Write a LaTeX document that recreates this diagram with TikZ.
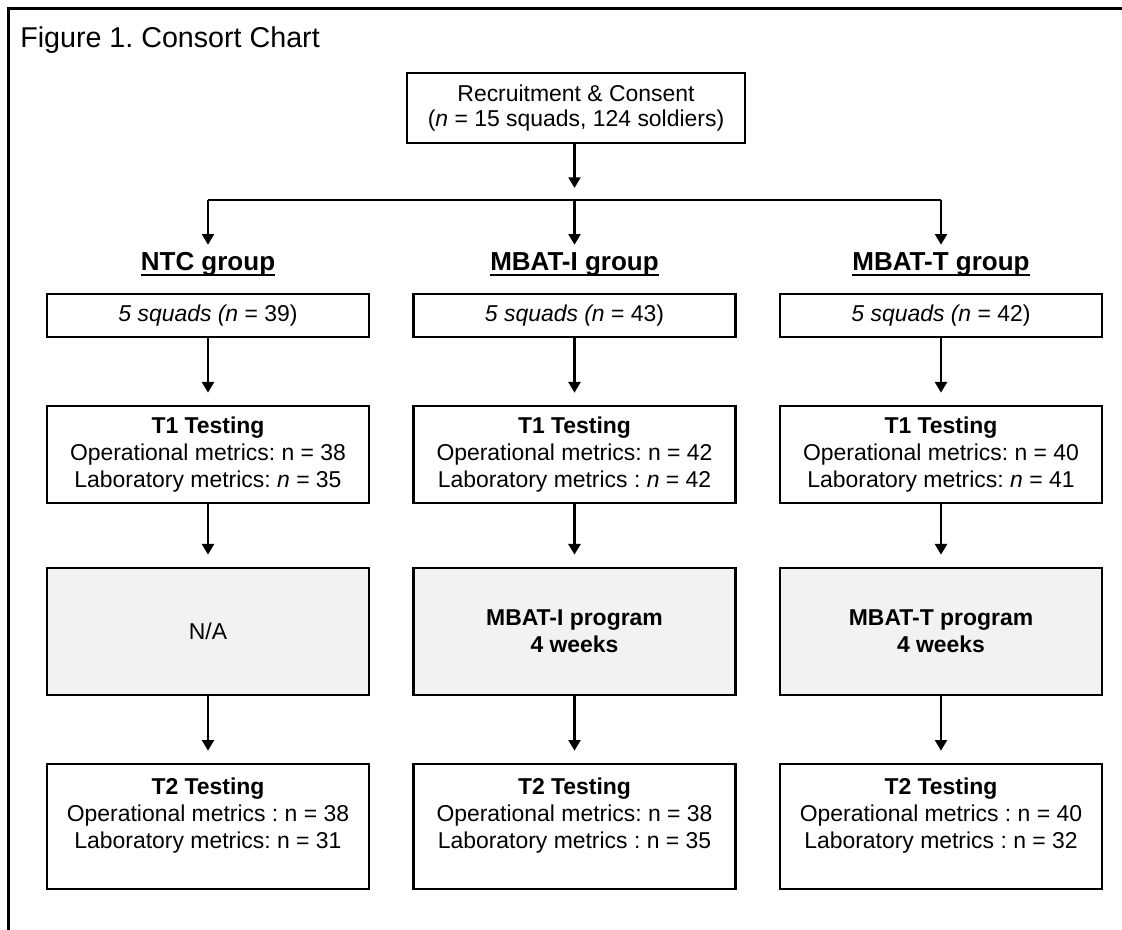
\documentclass[tikz,border=0pt]{standalone}
\usepackage{fontspec}
\setmainfont{Liberation Sans}
\usetikzlibrary{arrows.meta}
\definecolor{boxgrey}{HTML}{F2F2F2}
\newcommand{\grpul}[1]{\setbox0\hbox{#1}\rlap{\rule[-3.4pt]{\wd0}{1.5pt}}\box0}
\frenchspacing

\begin{document}
\begin{tikzpicture}[x=0.75pt,y=-0.75pt,>={Triangle[length=8pt,width=9pt]},
  box/.style={draw,line width=2pt,minimum width=241.5pt,align=center,inner sep=0pt,
    font=\fontsize{17.2}{20.25}\selectfont},
  flow/.style={->,line width=1.6pt,shorten >=9pt}]
\useasboundingbox (0,0) rectangle (1122,930);
\draw[line width=2.6pt] (8.5,930)--(8.5,8.5)--(1122,8.5);
\node[anchor=base west,inner sep=0pt,font=\fontsize{21.5}{26}\selectfont] (title) at (20,48) {Figure 1. Consort Chart};
\node[box,minimum width=253.5pt,minimum height=52.5pt,font=\fontsize{17.2}{19}\selectfont] (rc) at (576,108)
  {Recruitment \& Consent\\(\textit{n} = 15 squads, 124 soldiers)};
\coordinate (split) at (574.5,200);
\draw[flow] (rc.south -| split) -- (split);
\foreach \k/\x/\grp/\sq/\ta/\pg/\tb in {
  a/208/NTC group/{\textit{5 squads (n} = 39)}/{Operational metrics: n = 38\\Laboratory metrics: \textit{n} = 35}/{N/A}/{Operational metrics : n = 38\\Laboratory metrics: n = 31},
  b/574.5/MBAT-I group/{\textit{5 squads (n} = 43)}/{Operational metrics: n = 42\\Laboratory metrics : \textit{n} = 42}/{\textbf{MBAT-I program}\\\textbf{4 weeks}}/{Operational metrics: n = 38\\Laboratory metrics : n = 35},
  c/941/MBAT-T group/{\textit{5 squads (n} = 42)}/{Operational metrics: n = 40\\Laboratory metrics: \textit{n} = 41}/{\textbf{MBAT-T program}\\\textbf{4 weeks}}/{Operational metrics : n = 40\\Laboratory metrics : n = 32}}{
  \coordinate (bar-\k) at (\x,200);
  \node[anchor=base,inner xsep=0pt,inner ysep=5.5pt,text height=14pt,font=\fontsize{19.5}{23}\selectfont\bfseries] (grp-\k) at (\x,271) {\grpul{\grp}};
  \node[box,minimum height=32.25pt] (sq-\k) at (\x,315.5) {\sq};
  \node[box,minimum height=72.75pt] (t1-\k) at (\x,454.5) {\textbf{T1 Testing}\\\ta};
  \node[box,fill=boxgrey,minimum height=95.25pt] (pg-\k) at (\x,631.5) {\pg};
  \node[box,minimum height=93.75pt] (t2-\k) at (\x,826.5) {\textbf{T2 Testing}\\\tb\\\mbox{}};
  \draw[flow,shorten >=0pt] (bar-\k) -- (grp-\k);
  \draw[flow] (sq-\k) -- (t1-\k);
  \draw[flow] (t1-\k) -- (pg-\k);
  \draw[flow] (pg-\k) -- (t2-\k);}
\draw[line width=1.6pt] (bar-a) -- (bar-c);
\end{tikzpicture}
\end{document}
